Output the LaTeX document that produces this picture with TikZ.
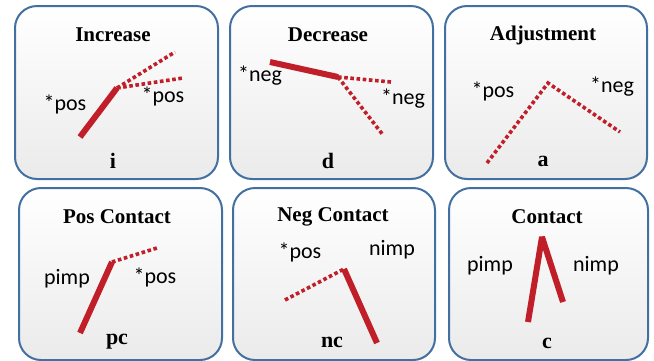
\documentclass[tikz,border=0pt]{standalone}
\usepackage{fontspec}
\setmainfont{Liberation Serif}
\newfontfamily\labelfont{Carlito}
\usepackage{tikz}

\definecolor{panelblue}{RGB}{66,112,160}
\definecolor{legred}{RGB}{192,30,40}

\tikzset{
  panel/.style={draw=panelblue, line width=2pt, rounded corners=22pt,
    top color=white, bottom color=black!8, inner sep=0pt},
  paneltitle/.style={font=\fontsize{21}{21}\selectfont\bfseries},
  panelcode/.style={font=\fontsize{22}{22}\selectfont\bfseries},
  leglabel/.style={font=\labelfont\fontsize{22}{22}\selectfont},
  solidleg/.style={legred, line width=6pt, line join=bevel},
  dotleg/.style={legred, line width=3.6pt, dash pattern=on 3.6pt off 2.6pt}
}

\begin{document}
\begin{tikzpicture}[x=1pt,y=-1pt]
\useasboundingbox (0,0) rectangle (654,360);

% panels
\node[panel, minimum width=203pt, minimum height=173pt] (inc) at (116.5,92.5) {};
\node[panel, minimum width=203pt, minimum height=173pt] (dec) at (331.5,92.5) {};
\node[panel, minimum width=202pt, minimum height=173pt] (adj) at (546,92.5) {};
\node[panel, minimum width=203pt, minimum height=172pt] (pcon) at (120.5,274) {};
\node[panel, minimum width=202pt, minimum height=172pt] (ncon) at (334,274) {};
\node[panel, minimum width=199pt, minimum height=172pt] (con) at (548.5,274) {};

% titles and codes
\node[paneltitle] (inctitle) at (113,35) {Increase};
\node[paneltitle] (dectitle) at (328,35) {Decrease};
\node[paneltitle] (adjtitle) at (543,35) {Adjustment};
\node[paneltitle] (pcontitle) at (117,217) {Pos Contact};
\node[paneltitle] (ncontitle) at (333,217) {Neg Contact};
\node[paneltitle] (contitle) at (547,217) {Contact};
\node[panelcode] (inccode) at (113,161) {i};
\node[panelcode] (deccode) at (328,161) {d};
\node[panelcode] (adjcode) at (543,161) {a};
\node[panelcode] (pconcode) at (117,342) {pc};
\node[panelcode] (nconcode) at (332,342) {nc};
\node[panelcode] (concode) at (547,343) {c};

% increase
\coordinate (i0) at (80,137);
\coordinate (i1) at (117,88);
\coordinate (i2) at (175,52);
\coordinate (i3) at (183,78);
\draw[solidleg] (i0) -- (i1);
\draw[dotleg] (i1) -- (i2);
\draw[dotleg] (i1) -- (i3);
\node[leglabel] (incleft) at (65,104) {*pos};
\node[leglabel] (incright) at (163,96) {*pos};

% decrease
\coordinate (d0) at (270,62);
\coordinate (d1) at (338,77);
\coordinate (d2) at (391,82);
\coordinate (d3) at (383,135);
\draw[solidleg] (d0) -- (d1);
\draw[dotleg] (d1) -- (d2);
\draw[dotleg] (d1) -- (d3);
\node[leglabel] (decleft) at (260,76) {*neg};
\node[leglabel] (decright) at (403,99) {*neg};

% adjustment
\coordinate (a0) at (487,163);
\coordinate (a1) at (548,83);
\coordinate (a2) at (620,132);
\draw[dotleg] (a0) -- (a1) -- (a2);
\node[leglabel] (adjleft) at (493,91) {*pos};
\node[leglabel] (adjright) at (612,87) {*neg};

% pos contact
\coordinate (p0) at (80,333);
\coordinate (p1) at (112,262);
\coordinate (p2) at (157,248);
\draw[solidleg] (p0) -- (p1);
\draw[dotleg] (p1) -- (p2);
\node[leglabel] (pconleft) at (67,279) {pimp};
\node[leglabel] (pconright) at (155,277) {*pos};

% neg contact
\coordinate (n0) at (285,300);
\coordinate (n1) at (344,269);
\coordinate (n2) at (377,343);
\draw[dotleg] (n0) -- (n1);
\draw[solidleg] (n1) -- (n2);
\node[leglabel] (nconleft) at (300,252) {*pos};
\node[leglabel] (nconright) at (392,250) {nimp};

% contact
\coordinate (c0) at (528,322);
\coordinate (c1) at (542,237);
\coordinate (c2) at (563,302);
\draw[solidleg] (c0) -- (c1) -- (c2);
\node[leglabel] (conleft) at (490,266) {pimp};
\node[leglabel] (conright) at (596,266) {nimp};
\end{tikzpicture}
\end{document}
